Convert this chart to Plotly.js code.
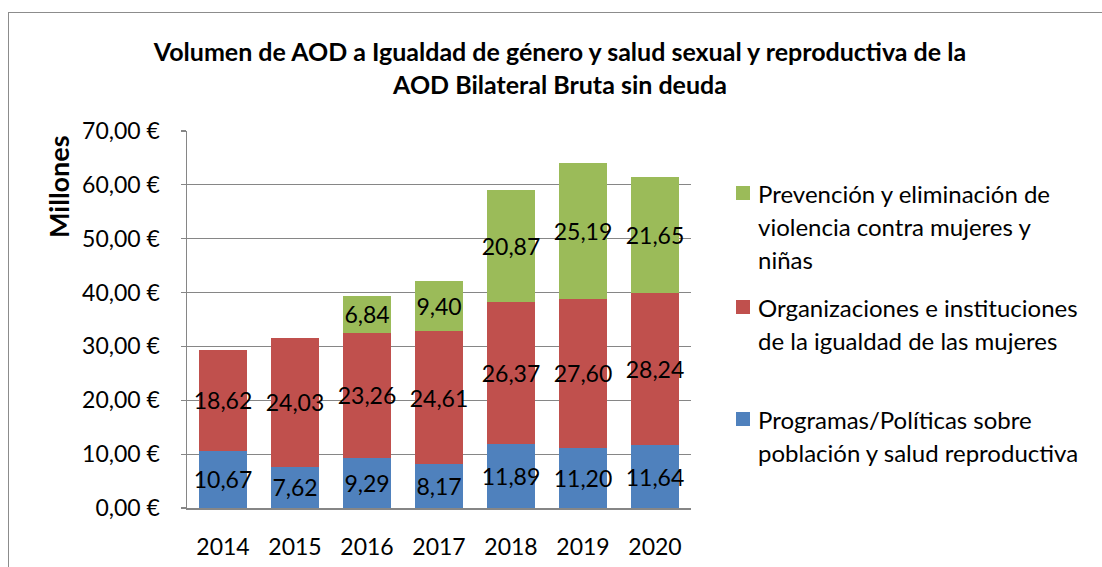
<!DOCTYPE html>
<html>
<head>
<meta charset="utf-8">
<script src="https://cdn.plot.ly/plotly-3.0.1.min.js"></script>
<style>
html,body{margin:0;padding:0;background:#fff;}
#chart{width:1102px;height:567px;position:relative;}
#frame{position:absolute;left:8px;top:12px;width:1200px;height:700px;border:1.5px solid #8c8c8c;pointer-events:none;box-sizing:border-box;}
</style>
</head>
<body>
<div id="chart"></div>
<div id="frame"></div>
<script>
// ---- data ----
const years = ['2014','2015','2016','2017','2018','2019','2020'];
const programas = [10.67, 7.62, 9.29, 8.17, 11.89, 11.20, 11.64];
const organizaciones = [18.62, 24.03, 23.26, 24.61, 26.37, 27.60, 28.24];
const prevencion = [null, null, 6.84, 9.40, 20.87, 25.19, 21.65];
const seriesNames = [
  'Programas/Políticas sobre<br>población y salud reproductiva',
  'Organizaciones e instituciones<br>de la igualdad de las mujeres',
  'Prevención y eliminación de<br>violencia contra mujeres y<br>niñas'
];
const seriesColors = ['#4F81BD', '#C0504D', '#9BBB59'];
const titleText = 'Volumen de AOD a Igualdad de género y salud sexual y reproductiva de la<br>AOD Bilateral Bruta sin deuda';
const yTitle = 'Millones';

const FONT = 'Lato, "Open Sans", sans-serif';
const L = 187, R = 691, T = 131, B = 508, W = 1102, Hh = 567;
const pw = R - L, ph = B - T;
const px2x = p => (p - L) / pw;
const py2y = p => (B - p) / ph;

const allSeries = [programas, organizaciones, prevencion];
const traces = allSeries.map((vals, i) => ({
  type: 'bar',
  x: years,
  y: vals,
  name: seriesNames[i],
  marker: {color: seriesColors[i]},
  text: vals.map(v => v == null ? '' : v.toFixed(2).replace('.', ',')),
  textposition: 'inside',
  insidetextanchor: 'middle',
  constraintext: 'none',
  textangle: 0,
  textfont: {family: FONT, size: 23, color: '#000'},
  showlegend: false,
  hoverinfo: 'skip'
}));

// custom legend (top entry = last series)
const shapes = [];
const annotations = [];
const legendTops = [193, 307, 419];
const order = [2, 1, 0];
order.forEach((si, k) => {
  const yc = legendTops[k];
  shapes.push({type: 'rect', xref: 'paper', yref: 'paper',
    x0: px2x(736), x1: px2x(750), y0: py2y(yc - 7), y1: py2y(yc + 7),
    fillcolor: seriesColors[si], line: {width: 0}});
  seriesNames[si].split('<br>').forEach((line, j) => {
    annotations.push({xref: 'paper', yref: 'paper', x: px2x(756), y: py2y(yc + j * 33),
      xanchor: 'left', yanchor: 'middle', showarrow: false, align: 'left',
      text: line, font: {family: FONT, size: 24, color: '#000'}});
  });
});

// y-axis title (placed near top, as in the original)
annotations.push({xref: 'paper', yref: 'paper', x: px2x(58), y: py2y(187),
  xanchor: 'center', yanchor: 'middle', showarrow: false, textangle: -90,
  text: '<b>' + yTitle + '</b>', font: {family: FONT, size: 27, color: '#000'}});

const layout = {
  width: W, height: Hh,
  margin: {l: L, r: W - R, t: T, b: Hh - B, pad: 0},
  paper_bgcolor: '#fff', plot_bgcolor: '#fff',
  separators: ',.',
  barmode: 'stack',
  bargap: 0.333,
  showlegend: false,
  title: {text: titleText, xref: 'container', x: 560 / W, xanchor: 'center',
    yref: 'container', y: 1 - 61 / Hh, yanchor: 'middle',
    font: {family: FONT, size: 25, color: '#000', weight: 'bold'}},
  xaxis: {type: 'category', showgrid: false, showline: true, linecolor: '#868686', linewidth: 1.5,
    ticks: '', tickfont: {family: FONT, size: 23, color: '#000'}, ticklabelstandoff: 18, zeroline: false},
  yaxis: {range: [0, 70], dtick: 10, tick0: 0, tickformat: '.2f', ticksuffix: ' €',
    showgrid: true, gridcolor: '#868686', gridwidth: 1.2, showline: true, linecolor: '#868686', linewidth: 1.5,
    ticks: 'outside', ticklen: 5, tickcolor: '#868686', tickwidth: 1.2,
    tickfont: {family: FONT, size: 23, color: '#000'}, ticklabelstandoff: 16, zeroline: false},
  shapes: shapes,
  annotations: annotations
};

Plotly.newPlot('chart', traces, layout, {displayModeBar: false, staticPlot: true});
</script>
</body>
</html>
